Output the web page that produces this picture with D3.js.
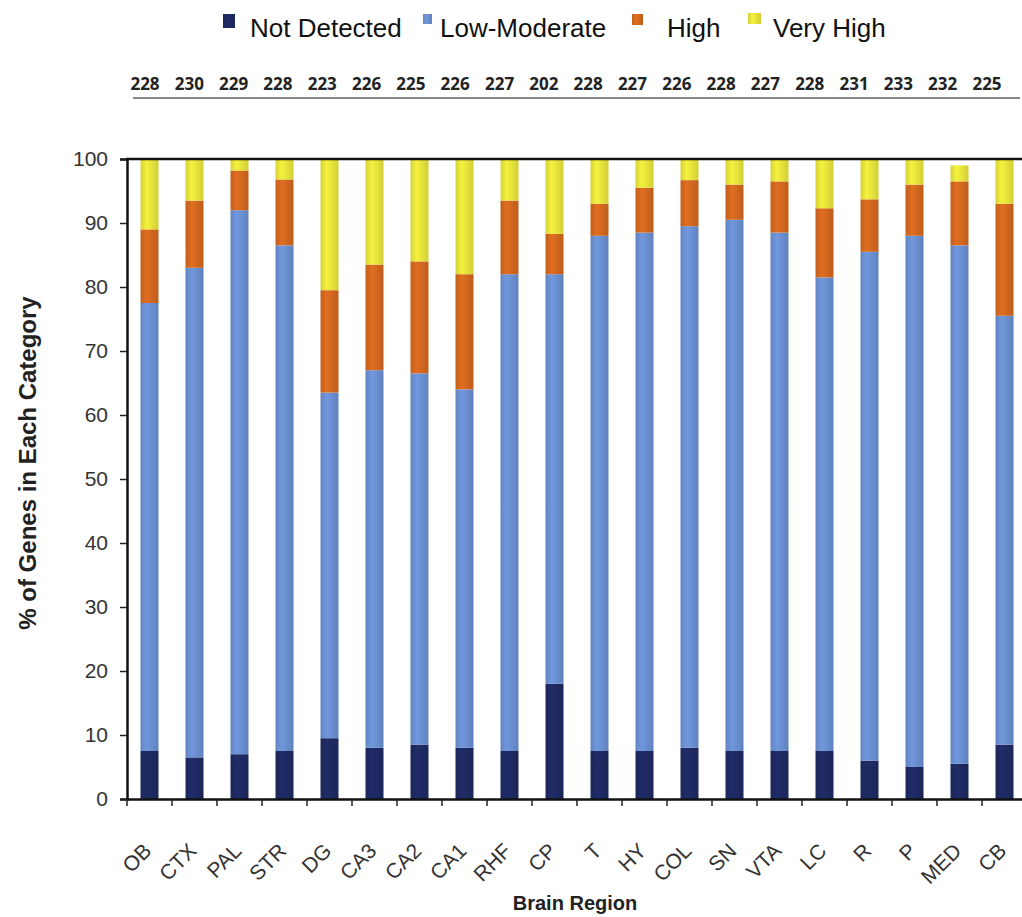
<!DOCTYPE html>
<html><head><meta charset="utf-8">
<script src="https://cdn.jsdelivr.net/npm/d3@7"></script>
<style>body{margin:0;background:#fff}</style></head>
<body><svg id="c" width="1022" height="917"></svg>
<script>
const regions = ["OB","CTX","PAL","STR","DG","CA3","CA2","CA1","RHF","CP","T","HY","COL","SN","VTA","LC","R","P","MED","CB"];
const geneCounts = [228,230,229,228,223,226,225,226,227,202,228,227,226,228,227,228,231,233,232,225];
const series = ["Not Detected","Low-Moderate","High","Very High"];
const notDetected = [7.5,6.5,7,7.5,9.5,8,8.5,8,7.5,18,7.5,7.5,8,7.5,7.5,7.5,6,5,5.5,8.5];
const lowModerate = [70,76.5,85,79,54,59,58,56,74.5,64,80.5,81,81.5,83,81,74,79.5,83,81,67];
const high = [11.5,10.5,6.2,10.3,16,16.5,17.5,18,11.5,6.3,5,7,7.2,5.5,8,10.8,8.2,8,10,17.5];
const veryHigh = [11,6.5,1.8,3.2,20.5,16.5,16,18,6.5,11.7,7,4.5,3.3,4,3.5,7.7,6.3,4,2.5,7];
const yTicks = [0,10,20,30,40,50,60,70,80,90,100];
const colors = ["#1e2a62","#6b90d2","#d4681f","#e9e53c"];

const svg = d3.select("#c");
const x = d3.scaleBand().domain(regions).range([127,1027]).paddingInner(0.6).paddingOuter(0.3);
const y = d3.scaleLinear().domain([0,100]).range([799,159]);
const xCount = d3.scalePoint().domain(regions).range([145,987]);

const defs = svg.append("defs");
colors.forEach((c,i)=>{
  const g = defs.append("linearGradient").attr("id","g"+i).attr("x1","0").attr("x2","1").attr("y1","0").attr("y2","0");
  g.append("stop").attr("offset","0").attr("stop-color",d3.color(c).darker(0.25));
  g.append("stop").attr("offset","0.35").attr("stop-color",d3.color(c).brighter(0.15));
  g.append("stop").attr("offset","1").attr("stop-color",d3.color(c).darker(0.3));
});

const rows = regions.map((r,i)=>({region:r,"Not Detected":notDetected[i],"Low-Moderate":lowModerate[i],"High":high[i],"Very High":veryHigh[i]}));
const stacked = d3.stack().keys(series)(rows);

svg.append("g").selectAll("g").data(stacked).join("g")
  .attr("fill",(d,i)=>`url(#g${i})`)
  .selectAll("rect").data(d=>d).join("rect")
  .attr("x",d=>x(d.data.region))
  .attr("width",x.bandwidth())
  .attr("y",d=>y(d[1]))
  .attr("height",d=>y(d[0])-y(d[1]));

// axes
const yAxis = svg.append("g").attr("transform","translate(127,0)")
  .call(d3.axisLeft(y).tickValues(yTicks).tickSize(7).tickPadding(12));
yAxis.select(".domain").attr("stroke","#111").attr("stroke-width",2.5);
yAxis.selectAll(".tick line").attr("stroke","#222").attr("stroke-width",1.5);
yAxis.selectAll("text").attr("font-family","Liberation Sans, Arial, sans-serif").attr("font-size",21).attr("fill","#333");

const xAxis = svg.append("g").attr("transform","translate(0,799)")
  .call(d3.axisBottom(x).tickSize(0).tickFormat(""));
xAxis.select(".domain").attr("stroke","#111").attr("stroke-width",2.5);
svg.append("g").selectAll("line").data(regions).join("line")
  .attr("x1",d=>x(d)-x.step()*x.paddingInner()/2).attr("x2",d=>x(d)-x.step()*x.paddingInner()/2)
  .attr("y1",799).attr("y2",806).attr("stroke","#222").attr("stroke-width",1.5);

// top border line
svg.append("line").attr("x1",126).attr("x2",1022).attr("y1",y(100)).attr("y2",y(100))
  .attr("stroke","#111").attr("stroke-width",2.5);

// x labels rotated
svg.append("g").selectAll("text").data(regions).join("text")
  .attr("transform",d=>`translate(${x(d)+x.bandwidth()/2-2},${847}) rotate(-45)`)
  .attr("text-anchor","end").attr("dy","0.35em")
  .attr("font-family","Liberation Sans, Arial, sans-serif").attr("font-size",21).attr("fill","#333")
  .text(d=>d);

// gene count row
svg.append("g").selectAll("text").data(regions).join("text")
  .attr("x",d=>xCount(d)).attr("y",90)
  .attr("text-anchor","middle")
  .attr("font-family","Open Sans, Liberation Sans, sans-serif").attr("font-weight","bold").attr("font-size",17).attr("fill","#222")
  .text((d,i)=>geneCounts[i]);
svg.append("line").attr("x1",133).attr("x2",1020).attr("y1",98).attr("y2",98).attr("stroke","#888").attr("stroke-width",2);

// legend
const legRect = [[223,14,12,14],[423,14,9,10],[632,14,11,11],[748,13,13,11]];
const legTX = [250,440,667,773];
const leg = svg.append("g");
series.forEach((s,i)=>{
  const r = legRect[i];
  leg.append("rect").attr("x",r[0]).attr("y",r[1]).attr("width",r[2]).attr("height",r[3]).attr("fill",`url(#g${i})`);
  leg.append("text").attr("x",legTX[i]).attr("y",37).attr("font-family","Liberation Sans, Arial, sans-serif")
    .attr("font-size",26).attr("fill","#111").text(s);
});

// axis titles
svg.append("text").attr("transform","translate(36,463) rotate(-90)").attr("text-anchor","middle")
  .attr("font-family","Liberation Sans, Arial, sans-serif").attr("font-weight","bold").attr("font-size",24).attr("fill","#222")
  .text("% of Genes in Each Category");
svg.append("text").attr("x",575).attr("y",910).attr("text-anchor","middle")
  .attr("font-family","Liberation Sans, Arial, sans-serif").attr("font-weight","bold").attr("font-size",20).attr("fill","#222")
  .text("Brain Region");
</script></body></html>
